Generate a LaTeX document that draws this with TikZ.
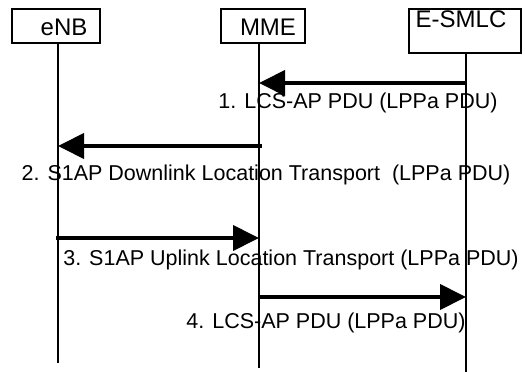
\documentclass[tikz,border=0pt]{standalone}
\usepackage{fontspec}
\setmainfont{Liberation Sans}
\usetikzlibrary{arrows.meta}
\begin{document}
\begin{tikzpicture}[x=1pt, y=-1pt, line width=2.4pt,
    entity/.style={draw, inner sep=0pt},
    msg/.style={line width=4pt, -{Triangle[length=26pt,width=25pt]}},
    lbl/.style={font=\fontsize{21.5}{25}\selectfont, inner sep=0pt},
    entname/.style={font=\fontsize{24}{28}\selectfont, inner sep=0pt}]
        \useasboundingbox (0,0) rectangle (525,372);

        % --- Entita' ---
        \node[entity, minimum width=88, minimum height=34] (enb) at (56,26) {};
        \node[entity, minimum width=84, minimum height=34] (mme) at (263,26) {};
        \node[entity, minimum width=112, minimum height=44] (smlc) at (465,31) {};
        \node[entname] (enbname) at (64,27) {eNB};
        \node[entname] (mmename) at (268,27) {MME};
        \node[entname, anchor=north] (smlcname) at (461,10) {E-SMLC};

        % linee di vita
        \coordinate (enbtop) at (58,43);
        \coordinate (enbbot) at (58,363);
        \coordinate (mmetop) at (259,43);
        \coordinate (mmebot) at (259,368);
        \coordinate (smlctop) at (466,53);
        \coordinate (smlcbot) at (466,372);
        \draw (enbtop) -- (enbbot);
        \draw (mmetop) -- (mmebot);
        \draw (smlctop) -- (smlcbot);

        % punti dei messaggi
        \coordinate (s1) at (466,83);  \coordinate (m1) at (259,83);
        \coordinate (m2) at (262,146); \coordinate (e2) at (58,146);
        \coordinate (e3) at (56,238);  \coordinate (m3) at (259,238);
        \coordinate (m4) at (259,297); \coordinate (s4) at (466,297);

        % messaggi
        \draw[msg] (s1) -- (m1);
        \draw[msg] (m2) -- (e2);
        \draw[msg] (e3) -- (m3);
        \draw[msg] (m4) -- (s4);

        % etichette dei messaggi
        \node[lbl] (msg1) at (358,103) {1. LCS-AP PDU (LPPa PDU)};
        \node[lbl] (msg2) at (266,175) {2. S1AP Downlink Location Transport\ \ (LPPa PDU)};
        \node[lbl] (msg3) at (291,260) {3. S1AP Uplink Location Transport (LPPa PDU)};
        \node[lbl] (msg4) at (326,323) {4. LCS-AP PDU (LPPa PDU)};
    \end{tikzpicture}
\end{document}
